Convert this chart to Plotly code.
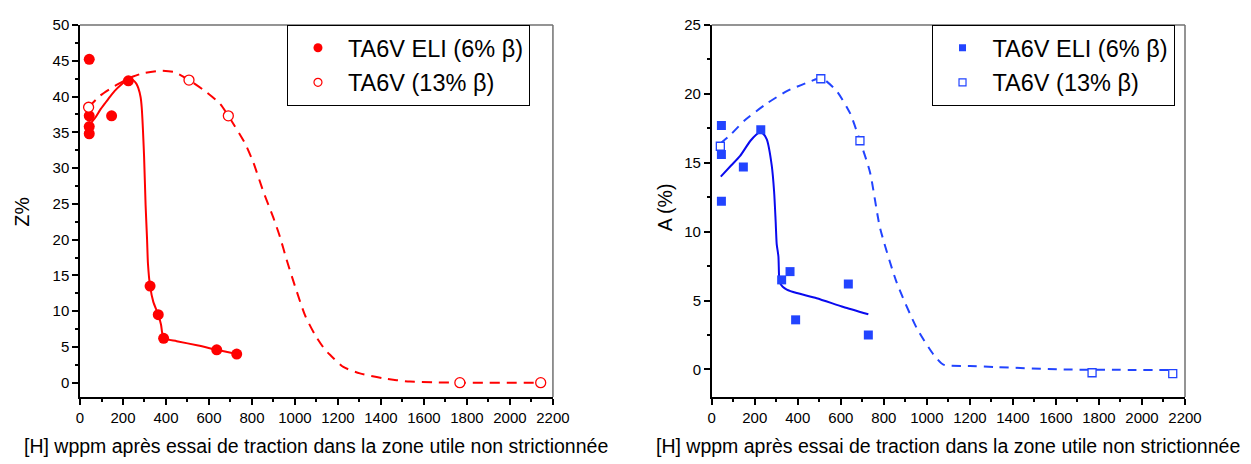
import plotly.graph_objects as go

# ---------------- data ----------------
# Left panel: Z% vs [H] wppm
eli_h_z = [43, 43, 43, 43, 147, 225, 326, 364, 389, 636, 729]
eli_z = [45.2, 37.3, 35.8, 34.8, 37.3, 42.2, 13.5, 9.5, 6.2, 4.6, 4.0]
ta6v_h_z = [40, 507, 690, 1767, 2143]
ta6v_z = [38.5, 42.3, 37.3, 0.0, 0.0]

# fitted trend curves
eli_fit_z_x = [43, 70, 93, 120, 140, 165, 186, 210, 228, 247, 262, 271, 282, 287, 298, 305,
               312, 316, 326, 341, 364, 377, 382, 389, 450, 550, 636, 729]
eli_fit_z_y = [36.0, 37.0, 38.1, 39.2, 40.0, 40.9, 41.5, 42.1, 42.4, 42.3, 41.8, 41.2, 39.9,
               38.5, 31.7, 24.9, 20.0, 16.7, 13.5, 11.3, 9.5, 8.1, 7.0, 6.2, 5.8, 5.2, 4.6, 4.0]
ta6v_fit_z_x = [40, 93, 163, 247, 300, 372, 440, 507, 580, 651, 690, 767, 806, 853, 899, 930,
                961, 1000, 1047, 1093, 1140, 1163, 1225, 1302, 1411, 1535, 1642, 1767, 1900, 2143]
ta6v_fit_z_y = [38.5, 40.1, 41.5, 42.8, 43.3, 43.6, 43.4, 42.3, 40.8, 39.0, 37.3, 33.5, 30.8,
                26.7, 23.1, 20.4, 17.2, 13.5, 9.4, 6.7, 4.6, 3.9, 2.2, 1.3, 0.6, 0.15, 0.05,
                0.0, 0.0, 0.0]

# Right panel: A (%) vs [H] wppm
eli_h_a = [45, 45, 45, 147, 228, 325, 364, 390, 635, 728]
eli_a = [17.7, 15.6, 12.2, 14.7, 17.4, 6.5, 7.1, 3.6, 6.2, 2.5]
ta6v_h_a = [40, 507, 689, 1768, 2143]
ta6v_a = [16.2, 21.1, 16.6, -0.24, -0.31]

eli_fit_a_x = [42, 90, 132, 180, 221, 240, 256, 279, 290, 297, 302, 310, 313, 317, 330, 349,
               395, 488, 612, 728]
eli_fit_a_y = [14.0, 14.8, 15.5, 16.6, 17.2, 17.1, 16.7, 14.8, 12.9, 10.8, 9.1, 8.2, 6.8, 6.3,
               6.0, 5.8, 5.55, 5.17, 4.53, 4.0]
ta6v_fit_a_x = [40, 85, 155, 256, 349, 457, 510, 581, 643, 689, 736, 782, 860, 953, 1030,
                1077, 1200, 1325, 1634, 1900, 2143]
ta6v_fit_a_y = [16.4, 17.0, 18.1, 19.3, 20.2, 20.9, 21.15, 20.2, 18.6, 16.6, 14.3, 10.3, 6.3,
                3.0, 1.1, 0.35, 0.25, 0.17, 0.0, -0.03, -0.05]

legend_names = ["TA6V ELI (6% \u03b2)", "TA6V (13% \u03b2)"]
x_ticks = list(range(0, 2201, 200))
z_ticks = list(range(0, 51, 5))
a_ticks = list(range(0, 26, 5))
x_title = "[H] wppm après essai de traction dans la zone utile non strictionnée"

RED = "#ff0000"
BLUE_M = "#2244ff"
BLUE_L = "#0a0aee"
FONT = "Arial, Liberation Sans, sans-serif"

fig = go.Figure()

# ---- left panel ----
fig.add_trace(go.Scatter(x=eli_fit_z_x, y=eli_fit_z_y, mode="lines",
                         line=dict(color=RED, width=2, shape="spline", smoothing=0.6),
                         showlegend=False, xaxis="x", yaxis="y"))
fig.add_trace(go.Scatter(x=ta6v_fit_z_x, y=ta6v_fit_z_y, mode="lines",
                         line=dict(color=RED, width=2, dash="10px,7px", shape="spline", smoothing=0.6),
                         showlegend=False, xaxis="x", yaxis="y"))
fig.add_trace(go.Scatter(x=eli_h_z, y=eli_z, mode="markers",
                         marker=dict(symbol="circle", size=11, color=RED, line=dict(width=0)),
                         showlegend=False, xaxis="x", yaxis="y"))
fig.add_trace(go.Scatter(x=ta6v_h_z, y=ta6v_z, mode="markers",
                         marker=dict(symbol="circle", size=10, color="white", line=dict(color=RED, width=1.3)),
                         showlegend=False, xaxis="x", yaxis="y"))
# legend entries (left)
fig.add_trace(go.Scatter(x=[None], y=[None], mode="markers", name=legend_names[0],
                         marker=dict(symbol="circle", size=9, color=RED, line=dict(width=0)),
                         legend="legend", legendgroup="a", xaxis="x", yaxis="y"))
fig.add_trace(go.Scatter(x=[None], y=[None], mode="markers", name=legend_names[1],
                         marker=dict(symbol="circle", size=8, color="white", line=dict(color=RED, width=1.2)),
                         legend="legend", legendgroup="b", xaxis="x", yaxis="y"))

# ---- right panel ----
fig.add_trace(go.Scatter(x=eli_fit_a_x, y=eli_fit_a_y, mode="lines",
                         line=dict(color=BLUE_L, width=2, shape="spline", smoothing=0.6),
                         showlegend=False, xaxis="x2", yaxis="y2"))
fig.add_trace(go.Scatter(x=ta6v_fit_a_x, y=ta6v_fit_a_y, mode="lines",
                         line=dict(color=BLUE_M, width=2, dash="9px,7px", shape="spline", smoothing=0.6),
                         showlegend=False, xaxis="x2", yaxis="y2"))
fig.add_trace(go.Scatter(x=eli_h_a, y=eli_a, mode="markers",
                         marker=dict(symbol="square", size=9, color=BLUE_M, line=dict(width=0)),
                         showlegend=False, xaxis="x2", yaxis="y2"))
fig.add_trace(go.Scatter(x=ta6v_h_a, y=ta6v_a, mode="markers",
                         marker=dict(symbol="square", size=8, color="white", line=dict(color=BLUE_M, width=1.3)),
                         showlegend=False, xaxis="x2", yaxis="y2"))
fig.add_trace(go.Scatter(x=[None], y=[None], mode="markers", name=legend_names[0],
                         marker=dict(symbol="square", size=7, color=BLUE_M, line=dict(width=0)),
                         legend="legend2", legendgroup="c", xaxis="x2", yaxis="y2"))
fig.add_trace(go.Scatter(x=[None], y=[None], mode="markers", name=legend_names[1],
                         marker=dict(symbol="square", size=7, color="white", line=dict(color=BLUE_M, width=1.2)),
                         legend="legend2", legendgroup="d", xaxis="x2", yaxis="y2"))

axis_common = dict(showline=True, linecolor="black", linewidth=1.5, mirror=False,
                   showgrid=False, zeroline=False, ticks="outside", ticklen=6, tickwidth=1.5,
                   tickcolor="black", ticklabeloverflow="allow",
                   tickfont=dict(family=FONT, size=15, color="black"))

X1_DOM = [0.0, 0.428]
X2_DOM = [0.5717, 1.0]

# the page body has an 8px margin, so the figure is drawn 8px smaller and shifted
fig.update_layout(
    width=1243, height=456,
    margin=dict(l=72, r=66, t=8, b=67),
    paper_bgcolor="white", plot_bgcolor="white",
    font=dict(family=FONT, color="black"),
    xaxis=dict(domain=X1_DOM, range=[0, 2200], tickvals=x_ticks, anchor="y",
               minor=dict(dtick=100, ticks="outside", ticklen=3, tickwidth=1.5, tickcolor="black"),
               **axis_common),
    yaxis=dict(domain=[0, 1], range=[-2, 50], tickvals=z_ticks, anchor="x",
               minor=dict(dtick=2.5, ticks="outside", ticklen=3, tickwidth=1.5, tickcolor="black"),
               **axis_common),
    xaxis2=dict(domain=X2_DOM, range=[0, 2200], tickvals=x_ticks, anchor="y2",
                minor=dict(dtick=100, ticks="outside", ticklen=3, tickwidth=1.5, tickcolor="black"),
                **axis_common),
    yaxis2=dict(domain=[0, 1], range=[-2, 25], tickvals=a_ticks, anchor="x2",
                minor=dict(dtick=2.5, ticks="outside", ticklen=3, tickwidth=1.5, tickcolor="black"),
                **axis_common),
    legend=dict(x=0.1873, y=1.0, xanchor="left", yanchor="top",
                bgcolor="white", bordercolor="black", borderwidth=1,
                font=dict(family=FONT, size=23.5, color="black"),
                tracegroupgap=1, itemwidth=50),
    legend2=dict(x=0.7706, y=1.0, xanchor="left", yanchor="top",
                 bgcolor="white", bordercolor="black", borderwidth=1,
                 font=dict(family=FONT, size=23.5, color="black"),
                 tracegroupgap=1, itemwidth=50),
)

# gray top/right frame lines
for xr, yr in [("x domain", "y domain"), ("x2 domain", "y2 domain")]:
    fig.add_shape(type="line", xref=xr, yref=yr, x0=0, x1=1, y0=1, y1=1,
                  line=dict(color="#707070", width=1.5))
    fig.add_shape(type="line", xref=xr, yref=yr, x0=1, x1=1, y0=0, y1=1,
                  line=dict(color="#707070", width=1.5))

# axis titles as annotations
fig.add_annotation(text=x_title, xref="paper", yref="paper", x=0.214, y=-0.133,
                   showarrow=False, xanchor="center", yanchor="middle",
                   font=dict(family=FONT, size=19.5, color="black"))
fig.add_annotation(text=x_title, xref="paper", yref="paper", x=0.7855, y=-0.133,
                   showarrow=False, xanchor="center", yanchor="middle",
                   font=dict(family=FONT, size=19.5, color="black"))
fig.add_annotation(text="Z%", xref="paper", yref="paper", x=-0.0516, y=0.4987,
                   showarrow=False, textangle=-90, xanchor="center", yanchor="middle",
                   font=dict(family=FONT, size=19.5, color="black"))
fig.add_annotation(text="A (%)", xref="paper", yref="paper", x=0.5294, y=0.51,
                   showarrow=False, textangle=-90, xanchor="center", yanchor="middle",
                   font=dict(family=FONT, size=19.5, color="black"))

fig.write_html("out.html")
